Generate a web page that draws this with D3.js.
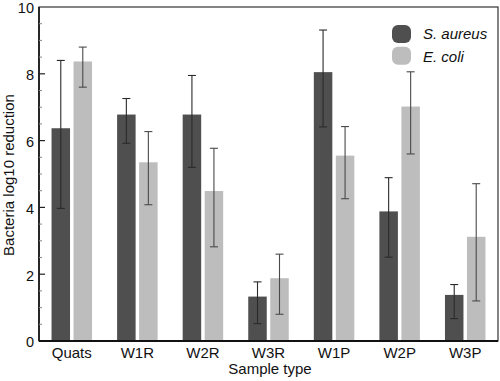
<!DOCTYPE html>
<html><head><meta charset="utf-8">
<script src="https://cdn.jsdelivr.net/npm/d3@7"></script>
<style>body{margin:0;background:#fff}svg{display:block}text{font-family:"Liberation Sans",Arial,sans-serif;fill:#111}</style>
</head><body><svg id="c" width="500" height="381"></svg>
<script>
const categories = ["Quats","W1R","W2R","W3R","W1P","W2P","W3P"];
const seriesNames = ["S. aureus","E. coli"];
const saureusMean = [6.37,6.78,6.78,1.33,8.05,3.88,1.38];
const saureusHigh = [8.40,7.26,7.95,1.77,9.31,4.89,1.69];
const saureusLow  = [3.97,5.92,5.20,0.52,6.41,2.51,0.67];
const ecoliMean = [8.37,5.35,4.49,1.88,5.55,7.02,3.12];
const ecoliHigh = [8.80,6.27,5.77,2.60,6.42,8.06,4.71];
const ecoliLow  = [7.60,4.08,2.82,0.80,4.26,5.60,1.20];
const yTicks = [0,2,4,6,8,10];

const colors = ["#4f4f4f","#bdbdbd"];
const errColors = ["#2a2a2a","#4a4a4a"];
const svg = d3.select("#c");
const L=39,R=498,T=7,B=341;
const x = d3.scaleBand().domain(categories).range([L,R]).paddingInner(0).paddingOuter(0);
const y = d3.scaleLinear().domain([0,10]).range([B,T]);
const bw = 18.5, gap = 3.5;

const series = [
  {mean:saureusMean,hi:saureusHigh,lo:saureusLow},
  {mean:ecoliMean,hi:ecoliHigh,lo:ecoliLow}
];
series.forEach((s,si)=>{
  const off = si===0 ? -(bw+gap/2) : gap/2;
  const g = svg.append("g");
  g.selectAll("rect").data(categories).join("rect")
    .attr("x",c=>x(c)+x.bandwidth()/2+off)
    .attr("width",bw)
    .attr("y",(c,i)=>y(s.mean[i]))
    .attr("height",(c,i)=>y(0)-y(s.mean[i]))
    .attr("fill",colors[si]);
  const cx = c=>x(c)+x.bandwidth()/2+off+bw/2;
  const eg = svg.append("g").attr("stroke",errColors[si]).attr("stroke-width",1.1);
  categories.forEach((c,i)=>{
    eg.append("line").attr("x1",cx(c)).attr("x2",cx(c)).attr("y1",y(s.hi[i])).attr("y2",y(s.lo[i]));
    eg.append("line").attr("x1",cx(c)-4).attr("x2",cx(c)+4).attr("y1",y(s.hi[i])).attr("y2",y(s.hi[i]));
    eg.append("line").attr("x1",cx(c)-4).attr("x2",cx(c)+4).attr("y1",y(s.lo[i])).attr("y2",y(s.lo[i]));
  });
});

// frame
svg.append("rect").attr("x",L).attr("y",T).attr("width",R-L).attr("height",B-T)
  .attr("fill","none").attr("stroke","#333").attr("stroke-width",1.2);
svg.append("line").attr("x1",L).attr("x2",R).attr("y1",B).attr("y2",B).attr("stroke","#111").attr("stroke-width",2);
svg.append("line").attr("x1",L).attr("x2",L).attr("y1",T).attr("y2",B).attr("stroke","#111").attr("stroke-width",1.6);

// y axis
const ya = svg.append("g").attr("transform",`translate(${L},0)`)
  .call(d3.axisLeft(y).tickValues(yTicks).tickSize(0).tickPadding(5).tickFormat(d3.format("d")));
ya.select(".domain").remove();
ya.selectAll("text").attr("dy","0.4em").style("font-size","14.5px").style("font-family","Liberation Sans, Arial, sans-serif").attr("fill","#111");
const minor = d3.range(0.5,10,0.5).filter(v=>v%2!==0);
svg.append("g").selectAll("line").data(minor).join("line")
  .attr("x1",L).attr("x2",L+3).attr("y1",d=>y(d)).attr("y2",d=>y(d)).attr("stroke","#888").attr("stroke-width",1);
svg.append("g").selectAll("line").data(yTicks.filter(v=>v>0&&v<10)).join("line")
  .attr("x1",L).attr("x2",L+6).attr("y1",d=>y(d)).attr("y2",d=>y(d)).attr("stroke","#222").attr("stroke-width",1.2);

// x axis
const xa = svg.append("g").attr("transform",`translate(0,${B})`)
  .call(d3.axisBottom(x).tickSize(0).tickPadding(6));
xa.select(".domain").remove();
xa.selectAll("text").style("font-size","15px").style("font-family","Liberation Sans, Arial, sans-serif").attr("fill","#111");

svg.append("text").attr("x",270).attr("y",374).attr("text-anchor","middle").style("font-size","15px").text("Sample type");
svg.append("text").attr("transform","translate(13.5,175) rotate(-90)").attr("text-anchor","middle").style("font-size","15px").text("Bacteria log10 reduction");

// legend
const lg = svg.append("g");
seriesNames.forEach((n,i)=>{
  lg.append("rect").attr("x",392).attr("y",25+i*21.7).attr("width",19).attr("height",18).attr("rx",6)
    .attr("fill",colors[i]);
  lg.append("text").attr("x",423).attr("y",39+i*22.5).style("font-size","15px").style("font-style","italic").text(n);
});
</script></body></html>
